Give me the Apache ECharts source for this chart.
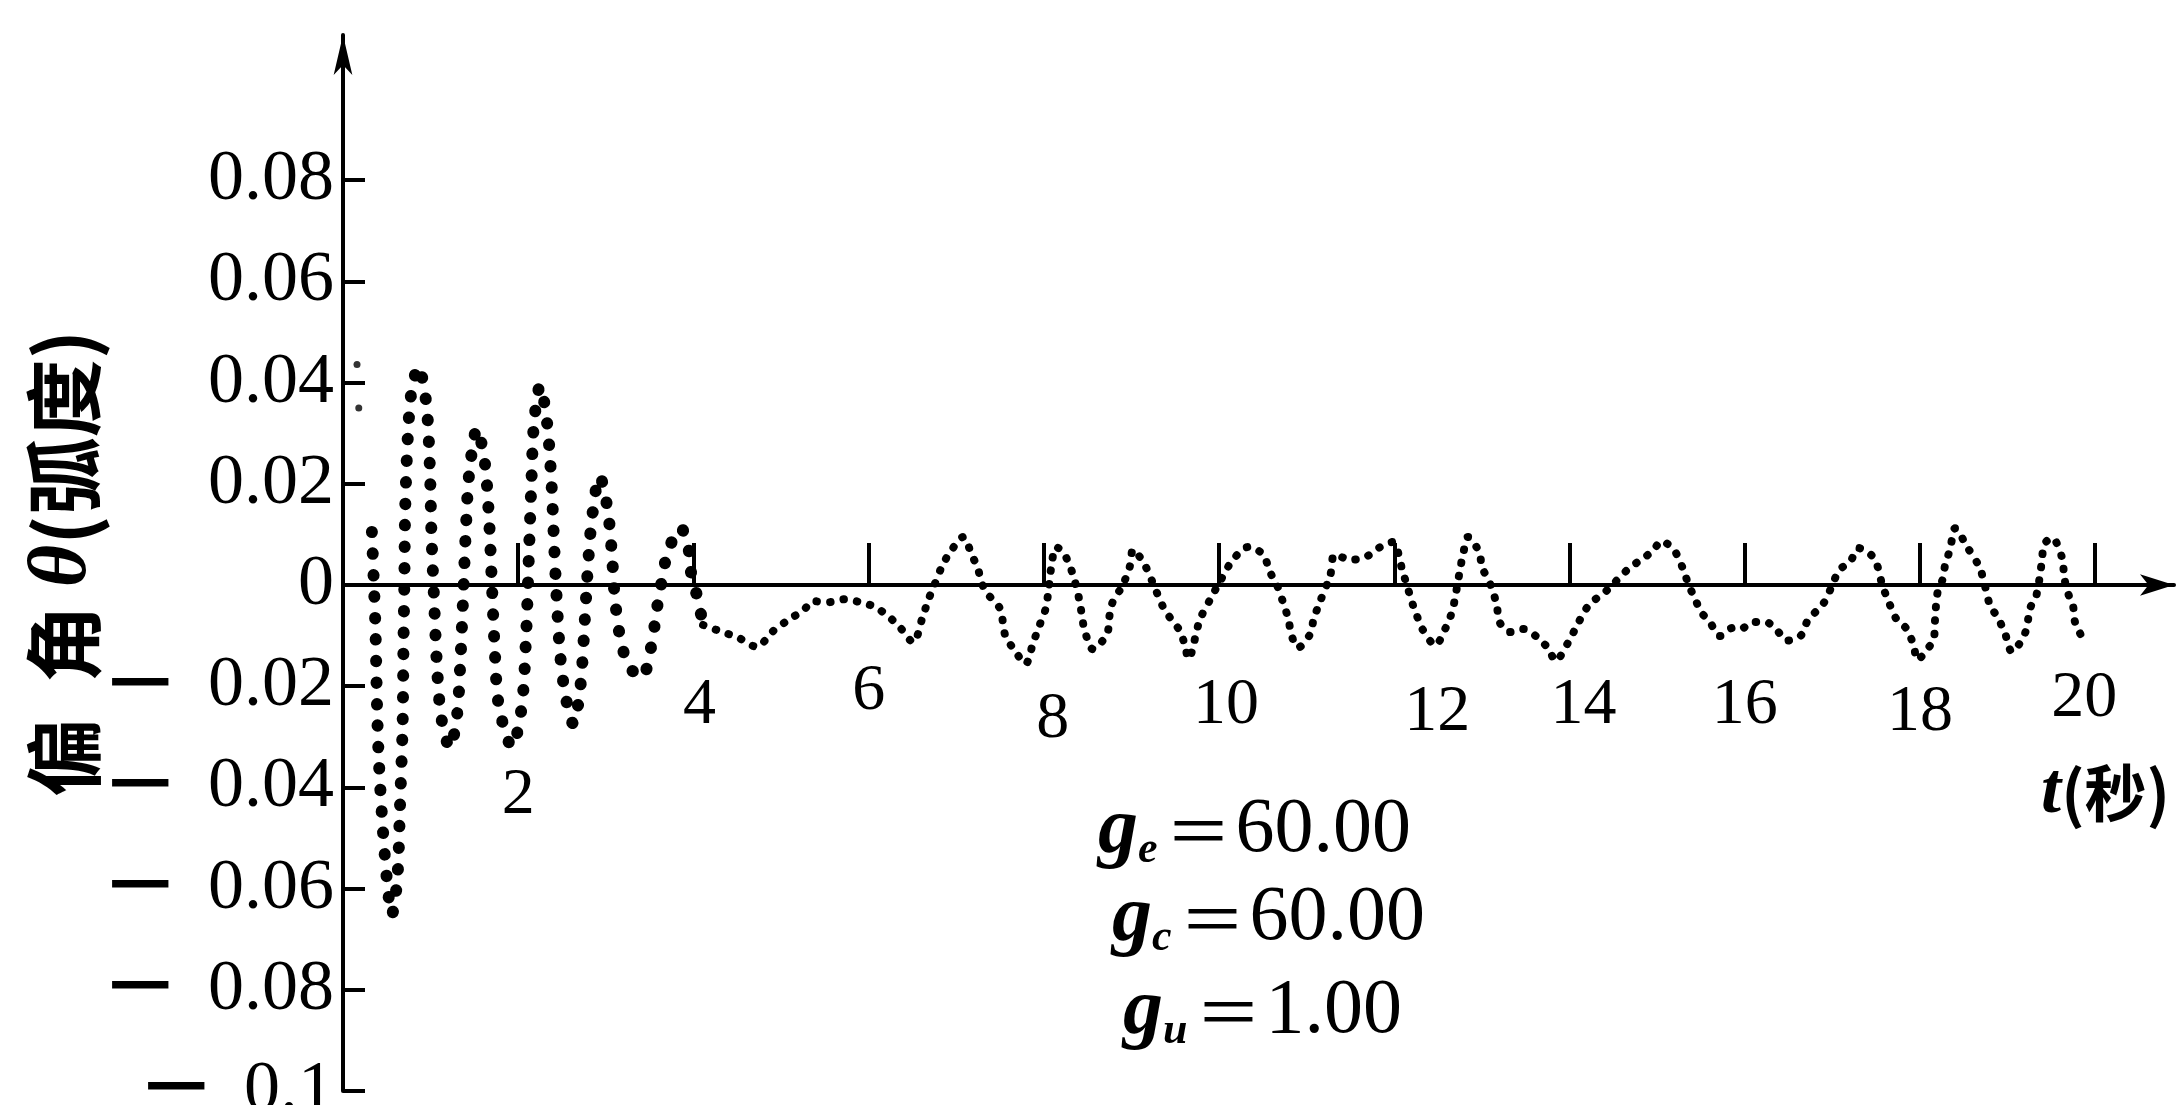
<!DOCTYPE html>
<html><head><meta charset="utf-8">
<script src="https://cdn.jsdelivr.net/npm/echarts@6/dist/echarts.min.js"></script>
<style>html,body{margin:0;padding:0;background:#fff}#c{width:2183px;height:1105px}</style>
</head><body><div id="c"></div>
<script>
// ---- data (time in s, deflection angle in rad) ----
const tStart = [0.16, 0.18];
const thetaStart = [0.0436, 0.035];
const tEarly = [0.33,0.35,0.37,0.39,0.41,0.45,0.50,0.556,0.62,0.65,0.68,0.69,0.70,0.71,0.74,0.78,0.86,0.95,0.99,1.01,1.04,1.07,1.12,1.22,1.30,1.34,1.37,1.40,1.44,1.53,1.62,1.67,1.70,1.73,1.78,1.93,2.04,2.09,2.12,2.15,2.18,2.25,2.33,2.38,2.41,2.44,2.48,2.54,2.63,2.71,2.75,2.79,2.84,2.93,3.02,3.07,3.10,3.16,3.26,3.41,3.52,3.58,3.63,3.70,3.85,3.93,3.96,4.00,4.04,4.11];
const thetaEarly = [0.0105,0.0013,-0.0083,-0.025,-0.035,-0.047,-0.058,-0.0652,-0.058,-0.044,-0.028,-0.012,0.0,0.015,0.0294,0.038,0.0432,0.036,0.024,0.01,-0.003,-0.015,-0.026,-0.0322,-0.026,-0.015,-0.003,0.01,0.022,0.0309,0.024,0.012,0.0,-0.012,-0.024,-0.032,-0.024,-0.01,0.005,0.02,0.032,0.0394,0.032,0.02,0.008,-0.003,-0.014,-0.022,-0.0275,-0.02,-0.01,0.002,0.013,0.0215,0.015,0.006,-0.002,-0.01,-0.016,-0.0183,-0.012,-0.005,0.0,0.006,0.0113,0.009,0.004,0.0,-0.002,-0.0079];
const tLate = [4.11,4.33,4.5,4.72,4.91,5.1,5.25,5.37,5.54,5.73,5.9,6.07,6.21,6.34,6.51,6.61,6.68,6.75,6.84,6.93,7.08,7.18,7.24,7.3,7.36,7.5,7.56,7.67,7.79,7.88,7.95,8.02,8.05,8.08,8.14,8.22,8.3,8.35,8.41,8.44,8.47,8.56,8.72,8.75,8.78,8.9,8.98,9.02,9.15,9.23,9.36,9.45,9.55,9.61,9.65,9.78,9.9,10.02,10.15,10.33,10.5,10.58,10.66,10.73,10.79,10.83,10.9,11.04,11.08,11.15,11.27,11.32,11.5,11.67,11.84,11.98,12.1,12.21,12.25,12.32,12.47,12.58,12.64,12.68,12.75,12.79,12.84,12.97,13.0,13.1,13.17,13.2,13.32,13.47,13.63,13.76,13.84,13.98,14.1,14.22,14.43,14.66,14.8,14.95,15.05,15.2,15.3,15.36,15.43,15.5,15.6,15.72,15.86,15.95,16.1,16.24,16.37,16.48,16.64,16.72,16.9,17.0,17.08,17.2,17.3,17.44,17.51,17.57,17.65,17.73,17.85,17.93,17.97,18.08,18.16,18.17,18.18,18.2,18.26,18.29,18.33,18.37,18.4,18.54,18.68,18.74,18.8,18.89,18.97,19.05,19.2,19.26,19.33,19.39,19.42,19.51,19.62,19.65,19.69,19.75,19.77,19.88];
const thetaLate = [-0.0079,-0.0093,-0.0103,-0.0122,-0.0091,-0.0067,-0.0051,-0.0032,-0.0034,-0.0028,-0.0034,-0.0043,-0.006,-0.008,-0.0113,-0.0067,-0.003,0.0,0.0038,0.0065,0.0095,0.0058,0.0036,0.0,-0.0018,-0.0047,-0.01,-0.013,-0.0156,-0.0113,-0.008,-0.0047,-0.0015,0.003,0.0075,0.0065,0.0036,0.001,-0.0034,-0.0067,-0.0093,-0.0127,-0.0097,-0.006,-0.0036,0.0,0.0036,0.007,0.004,0.001,-0.0043,-0.0067,-0.009,-0.0119,-0.0146,-0.0069,-0.0028,0.001,0.0048,0.0075,0.0061,0.0026,0.0,-0.0034,-0.0067,-0.0101,-0.0124,-0.0097,-0.0067,-0.0034,0.002,0.006,0.005,0.0055,0.0075,0.0085,0.0024,-0.0038,-0.0057,-0.0087,-0.0119,-0.0087,-0.0063,-0.0038,0.003,0.0065,0.0095,0.0065,0.0036,0.0,-0.004,-0.0073,-0.0093,-0.0087,-0.0103,-0.0126,-0.015,-0.0115,-0.0075,-0.004,-0.001,0.003,0.0048,0.0067,0.0087,0.0067,0.003,0.0,-0.0026,-0.0053,-0.0073,-0.0101,-0.0085,-0.0087,-0.0073,-0.0073,-0.009,-0.011,-0.01,-0.007,-0.0036,0.0,0.003,0.0045,0.0073,0.006,0.004,0.0,-0.0036,-0.0067,-0.0087,-0.0121,-0.0148,-0.0128,-0.0105,-0.0075,-0.0048,-0.0016,0.0012,0.0042,0.0063,0.0093,0.0112,0.0075,0.0035,0.0,-0.004,-0.0065,-0.0095,-0.0132,-0.0095,-0.0045,-0.002,0.0044,0.0081,0.0093,0.0055,0.0012,-0.0016,-0.0044,-0.0073,-0.0113];
const xTickValues = [2,4,6,8,10,12,14,16,18,20];
const xTickLabels = ['2','4','6','8','10','12','14','16','18','20'];
const yTickValues = [-0.1,-0.08,-0.06,-0.04,-0.02,0,0.02,0.04,0.06,0.08];
const yTickLabels = ['−0.1','−0.08','−0.06','−0.04','−0.02','0','0.02','0.04','0.06','0.08'];
const paramSubs = ['e','c','u'];
const paramValues = ['60.00','60.00','1.00'];

// ---- layout / style ----
const SERIF = 'Liberation Serif';
const CJK = 'Noto Sans CJK SC';
const Y_MIN = -0.1, Y_MAX = 0.1087;
const GRID_TOP = 35, GRID_H = 1056;
const zeroOffset = -GRID_H * (-Y_MIN) / (Y_MAX - Y_MIN); // moves the x axis up onto theta = 0
// per-label [down, right] shifts of the x tick labels (hand-placed in the original)
const xLabelShift = {2:[104,0],4:[14,6],6:[0,0],8:[28,9],10:[14,7],12:[21,43],14:[14,14],16:[14,0],18:[21,0],20:[7,-11]};
const xRich = {};
xTickValues.forEach(v => {
  const s = xLabelShift[v];
  xRich['l' + v] = {fontFamily: SERIF, fontSize: 66, lineHeight: 66, color: '#000',
    padding: [2 * s[0], s[1] < 0 ? -2 * s[1] : 0, 0, s[1] > 0 ? 2 * s[1] : 0]};
});
const paramPos = [[1098, 831], [1112, 919], [1123, 1012]];

const chart = echarts.init(document.getElementById('c'), null, {renderer: 'canvas'});
const toPairs = (ts, vs) => ts.map((t, i) => [t, vs[i]]);
const nearestIdx = (arr, v) => { let b = 0; arr.forEach((a, i) => { if (Math.abs(a - v) < Math.abs(arr[b] - v)) b = i; }); return b; };

chart.setOption({
  animation: false,
  backgroundColor: '#fff',
  grid: {left: 343, top: GRID_TOP, width: 1831, height: GRID_H, containLabel: false, outerBoundsMode: 'none'},
  xAxis: {
    type: 'value', min: 0, max: 20.9, position: 'bottom', offset: zeroOffset,
    axisLine: {onZero: false, lineStyle: {color: '#000', width: 4}, symbol: ['none', 'arrow'], symbolSize: [16, 34]},
    axisTick: {show: true, inside: true, length: 42, customValues: xTickValues, lineStyle: {color: '#000', width: 4}},
    axisLabel: {show: true, margin: 74, customValues: xTickValues, hideOverlap: false,
      formatter: v => { const i = nearestIdx(xTickValues, v); return '{l' + xTickValues[i] + '|' + xTickLabels[i] + '}'; },
      rich: xRich},
    splitLine: {show: false},
    name: '{i|t}{c|(秒)}', nameLocation: 'end', nameGap: -4, nameMoveOverlap: false,
    nameTextStyle: {align: 'right', verticalAlign: 'top', padding: [172, 0, 0, 0],
      rich: {i: {fontFamily: SERIF, fontStyle: 'italic', fontWeight: 'bold', fontSize: 72, color: '#000'},
             c: {fontFamily: CJK, fontWeight: 'bold', fontSize: 62, color: '#000'}}}
  },
  yAxis: {
    type: 'value', min: Y_MIN, max: Y_MAX,
    axisLine: {show: true, onZero: false, lineStyle: {color: '#000', width: 4}, symbol: ['none', 'arrow'], symbolSize: [14, 40]},
    axisTick: {show: true, inside: true, length: 22, customValues: yTickValues, lineStyle: {color: '#000', width: 4}},
    axisLabel: {show: true, margin: 9, customValues: yTickValues, showMinLabel: true, showMaxLabel: true, hideOverlap: false,
      formatter: v => { const s = yTickLabels[nearestIdx(yTickValues, v)]; return s[0] === '−' ? '{m|−}{n|' + s.slice(1) + '}' : '{n|' + s + '}'; },
      rich: {m: {fontFamily: 'DejaVu Sans', fontSize: 90, lineHeight: 60, color: '#000', padding: [0, 30, 0, 0]},
             n: {fontFamily: SERIF, fontSize: 72, lineHeight: 60, color: '#000'}}},
    splitLine: {show: false},
    name: '{a|偏  角 }{b|θ}{a|(弧度)}', nameLocation: 'middle', nameRotate: 90, nameGap: 238, nameMoveOverlap: false,
    nameTextStyle: {rich: {a: {fontFamily: CJK, fontWeight: 'bold', fontSize: 78, color: '#000'},
                           b: {fontFamily: SERIF, fontStyle: 'italic', fontWeight: 'bold', fontSize: 82, color: '#000'}}}
  },
  series: [
    {type: 'scatter', data: toPairs(tStart, thetaStart), symbol: 'circle', symbolSize: 7, clip: false,
     itemStyle: {color: '#000'}},
    {type: 'line', data: toPairs(tEarly, thetaEarly), smooth: 0.3, showSymbol: false, symbol: 'none', clip: false,
     lineStyle: {color: '#000', width: 12, type: [0.5, 21], cap: 'round'}},
    {type: 'line', data: toPairs(tLate, thetaLate), smooth: 0.3, showSymbol: false, symbol: 'none', clip: false,
     lineStyle: {color: '#000', width: 8, type: [0.5, 13], cap: 'round'}}
  ],
  graphic: paramSubs.map((s, i) => ({
    type: 'text', x: paramPos[i][0], y: paramPos[i][1],
    style: {
      text: '{g|g}{s|' + s + '}{eq|＝}{n|' + paramValues[i] + '}',
      verticalAlign: 'middle', align: 'left',
      rich: {
        g: {fontFamily: SERIF, fontStyle: 'italic', fontWeight: 'bold', fontSize: 80, lineHeight: 84, fill: '#000'},
        s: {fontFamily: SERIF, fontStyle: 'italic', fontWeight: 'bold', fontSize: 44, lineHeight: 44, verticalAlign: 'bottom', fill: '#000'},
        eq: {fontFamily: CJK, fontSize: 66, lineHeight: 84, padding: [0, 4, 0, 8], fill: '#000'},
        n: {fontFamily: SERIF, fontSize: 78, lineHeight: 84, fill: '#000'}
      }
    }
  }))
});
</script></body></html>
